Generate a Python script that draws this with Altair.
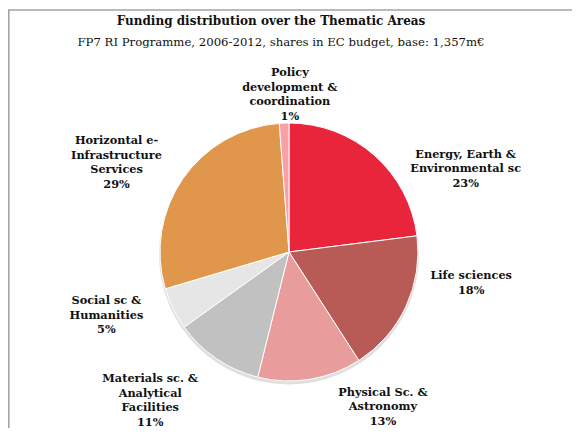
import altair as alt
import pandas as pd

# ---- data ----
title_text = "Funding distribution over the Thematic Areas"
subtitle_text = "FP7 RI Programme, 2006-2012, shares in EC budget, base: 1,357m€"

categories = [
    "Energy, Earth & Environmental sc",
    "Life sciences",
    "Physical Sc. & Astronomy",
    "Materials sc. & Analytical Facilities",
    "Social sc & Humanities",
    "Horizontal e-Infrastructure Services",
    "Policy development & coordination",
]
shares = [23.0, 17.9, 13.0, 11.2, 5.3, 28.4, 1.2]
pct_labels = ["23%", "18%", "13%", "11%", "5%", "29%", "1%"]
label_lines = [
    "Energy, Earth &\nEnvironmental sc",
    "Life sciences",
    "Physical Sc. &\nAstronomy",
    "Materials sc. &\nAnalytical\nFacilities",
    "Social sc &\nHumanities",
    "Horizontal e-\nInfrastructure\nServices",
    "Policy\ndevelopment &\ncoordination",
]
colors = ["#E8253A", "#B85A55", "#E89C9C", "#C1C1C1", "#E6E6E6", "#E0974C", "#F8A0A6"]

df = pd.DataFrame({
    "category": categories,
    "share": shares,
    "order": list(range(len(categories))),
    "label": [f"{a}\n{b}" for a, b in zip(label_lines, pct_labels)],
})

FONT = "DejaVu Serif, Liberation Serif, serif"
W, H = 564, 368
CX, CY, R = 281, 192, 129
LH = 14.5
theta_scale = alt.Scale(domain=[0, 100])

base = alt.Chart(df)
one = alt.Chart(pd.DataFrame({"t": [title_text], "s": [subtitle_text]}))

shadow = one.mark_arc(radius=R + 1, theta=0, theta2=6.2832, color="#9a9a9a", opacity=0.32).encode(
    x=alt.value(CX), y=alt.value(CY + 2.5)
)

pie = base.mark_arc(radius=R, stroke="white", strokeWidth=1).encode(
    theta=alt.Theta("share:Q", stack=True, scale=theta_scale),
    color=alt.Color("category:N", scale=alt.Scale(domain=categories, range=colors), legend=None),
    order=alt.Order("order:Q"),
    x=alt.value(CX),
    y=alt.value(CY),
)

# nudges of each label block centre from its slice's mid-angle position
nudges = [(51, 60), (10, -49), (63, -32), (-32, -8), (-12, -20), (-16, 19), (8, 33)]

label_layers = []
for i, (ddx, ddy) in enumerate(nudges):
    n_lines = df["label"][i].count("\n") + 1
    lay = (
        base.transform_window(cum="sum(share)", sort=[alt.SortField("order", order="ascending")], frame=[None, 0])
        .transform_calculate(mid="datum.cum - datum.share / 2")
        .transform_filter(alt.datum.order == i)
        .mark_text(
            radius=190, dx=ddx, dy=ddy - (n_lines - 1) * LH / 2, font=FONT, fontSize=11.3,
            fontWeight="bold", lineBreak="\n", lineHeight=LH, align="center",
            baseline="middle", color="#111111",
        )
        .encode(
            theta=alt.Theta("mid:Q", scale=theta_scale),
            text="label:N",
            x=alt.value(CX),
            y=alt.value(CY),
        )
    )
    label_layers.append(lay)

title = one.mark_text(
    font=FONT, fontSize=12, fontWeight="bold", color="#111111", align="center", baseline="alphabetic"
).encode(text="t:N", x=alt.value(263), y=alt.value(-35))

subtitle = one.mark_text(
    font=FONT, fontSize=11.7, color="#111111", align="center", baseline="alphabetic"
).encode(text="s:N", x=alt.value(273), y=alt.value(-14))

# white strip hiding the right edge of the drawing area (the reference frame runs on past it)
edge_cover = one.mark_rect(fill="white", stroke="white", strokeWidth=0).encode(
    x=alt.value(W - 3), x2=alt.value(W + 3), y=alt.value(-49), y2=alt.value(H + 10)
)

frame_top = one.mark_rule(color="#a3a3a3", strokeWidth=1.6).encode(
    x=alt.value(0), x2=alt.value(W + 10), y=alt.value(-50)
)
frame_left = one.mark_rule(color="#a3a3a3", strokeWidth=1.6).encode(
    x=alt.value(0.8), y=alt.value(-50), y2=alt.value(H + 10)
)

chart = alt.layer(edge_cover, frame_top, frame_left, title, subtitle, shadow, pie, *label_layers).properties(
    width=W,
    height=H,
    background="white",
    autosize=alt.AutoSizeParams(type="none"),
    padding={"left": 0, "top": 52, "right": 0, "bottom": 0},
).configure_view(strokeWidth=0, stroke="transparent")

chart.save("out.html", embed_options={"renderer": "svg", "actions": False})
